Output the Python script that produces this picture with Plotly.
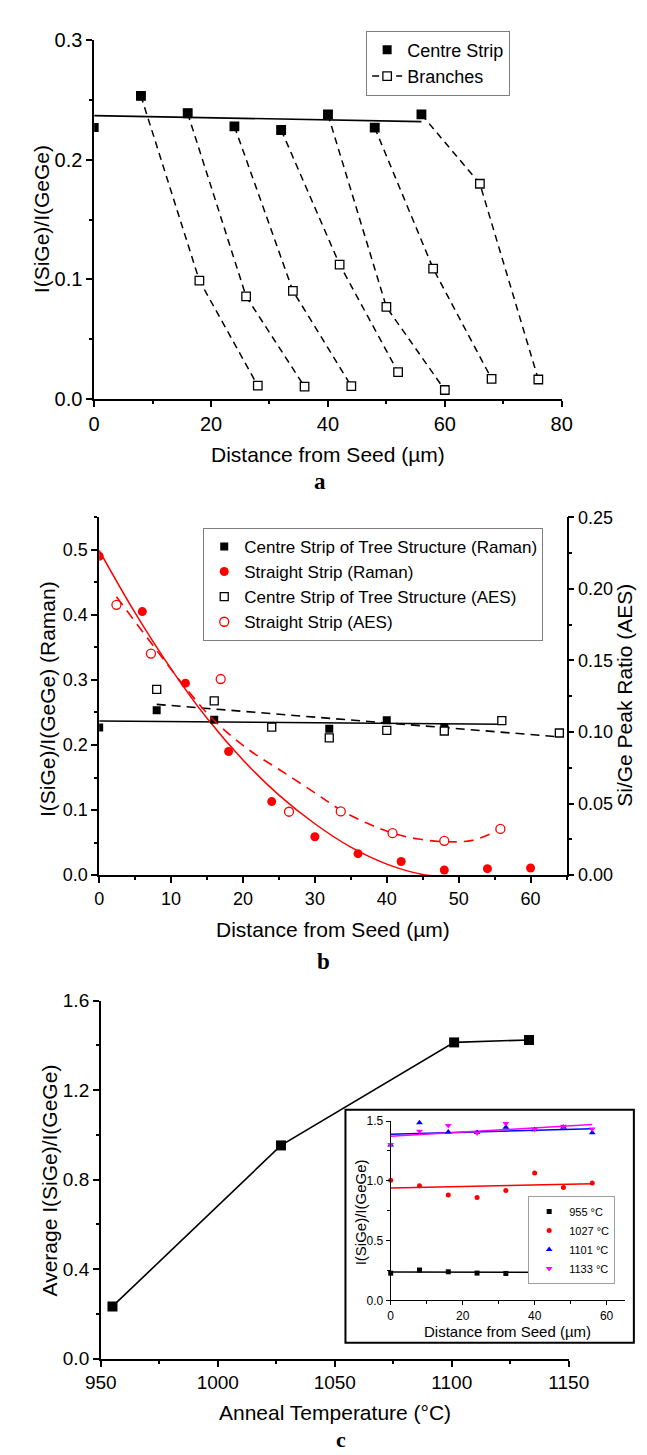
import plotly.graph_objects as go

W, H = 647, 1455
FONT = "Liberation Sans, Arial, sans-serif"
SERIF = "Liberation Serif, Times New Roman, serif"

def px(x):
    return x / W

def py(y):
    return 1 - y / H

# ---------------- Panel a data ----------------
centre_x = [0, 8, 16, 24, 32, 40, 48, 56]
centre_y = [0.227, 0.2536, 0.239, 0.228, 0.225, 0.238, 0.227, 0.238]
centre_fit_x = [0, 56]
centre_fit_y = [0.237, 0.232]

branch_x = [
    [8, 18, 28],
    [16, 26, 36],
    [24, 34, 44],
    [32, 42, 52],
    [40, 50, 60],
    [48, 58, 68],
    [56, 66, 76],
]
branch_y = [
    [0.2536, 0.099, 0.011],
    [0.239, 0.0857, 0.0102],
    [0.228, 0.0904, 0.0107],
    [0.225, 0.1124, 0.0223],
    [0.238, 0.0769, 0.0074],
    [0.227, 0.109, 0.0168],
    [0.238, 0.180, 0.0162],
]

# ---------------- Panel b data ----------------
raman_straight_x = [0, 6, 12, 18, 24, 30, 36, 42, 48, 54, 60]
raman_straight_y = [0.49, 0.405, 0.295, 0.19, 0.113, 0.059, 0.033, 0.021, 0.008, 0.010, 0.011]
raman_fit_x = [0, 5, 10, 15, 20, 25, 30, 35, 40, 45, 48]
raman_fit_y = [0.499, 0.403, 0.317, 0.241, 0.177, 0.123, 0.079, 0.043, 0.017, 0.001, -0.002]

aes_centre_x = [8, 16, 24, 32, 40, 48, 56, 64]
aes_centre_y = [0.1298, 0.1218, 0.1034, 0.0959, 0.1011, 0.1007, 0.1079, 0.0993]
aes_centre_fit_x = [8, 64]
aes_centre_fit_y = [0.1193, 0.0966]

aes_straight_x = [2.4, 7.2, 16.9, 26.4, 33.6, 40.8, 48.0, 55.8]
aes_straight_y = [0.1888, 0.1548, 0.137, 0.0443, 0.0445, 0.0293, 0.0240, 0.0323]
aes_fit_x = [2.4, 8, 12, 16, 20.7, 25.6, 30.3, 33.6, 37.3, 40.8, 44.4, 48, 51.9, 55.6]
aes_fit_y = [0.1945, 0.157, 0.131, 0.108, 0.088, 0.072, 0.0565, 0.0455, 0.0362, 0.0294, 0.0252, 0.0234, 0.0243, 0.0317]

# ---------------- Panel c data ----------------
anneal_T = [955, 1027, 1101, 1133]
avg_ratio = [0.234, 0.953, 1.413, 1.424]

inset_x = [0, 8, 16, 24, 32, 40, 48, 56]
inset_955 = centre_y
inset_1027 = [1.005, 0.958, 0.882, 0.86, 0.92, 1.065, 0.945, 0.982]
inset_1101 = [1.30, 1.485, 1.408, 1.404, 1.448, 1.428, 1.448, 1.402]
inset_1133 = [1.305, 1.414, 1.462, 1.40, 1.48, 1.431, 1.457, 1.434]
inset_fit_x = [0, 56]
inset_fit_955 = [0.237, 0.232]
inset_fit_1027 = [0.94, 0.975]
inset_fit_1101 = [1.39, 1.436]
inset_fit_1133 = [1.373, 1.471]

fig = go.Figure()

# ---- Panel a traces ----
for i, (bx, by) in enumerate(zip(branch_x, branch_y)):
    fig.add_trace(go.Scatter(
        x=bx, y=by, mode="lines+markers", xaxis="x", yaxis="y",
        line=dict(color="black", width=1.5, dash="7px,5px"),
        marker=dict(symbol="square", size=8.5, color="white", line=dict(color="black", width=1.3)),
        name="Branches", legend="legend", legendgroup="br", showlegend=(i == 0)))
fig.add_trace(go.Scatter(
    x=centre_fit_x, y=centre_fit_y, mode="lines", xaxis="x", yaxis="y",
    line=dict(color="black", width=1.6), showlegend=False))
fig.add_trace(go.Scatter(
    x=centre_x, y=centre_y, mode="markers", xaxis="x", yaxis="y",
    marker=dict(symbol="square", size=9, color="black"),
    name="Centre Strip", legend="legend", legendrank=1))

# ---- Panel b traces ----
fig.add_trace(go.Scatter(
    x=centre_fit_x, y=centre_fit_y, mode="lines", xaxis="x2", yaxis="y2",
    line=dict(color="black", width=1.5), showlegend=False))
fig.add_trace(go.Scatter(
    x=raman_fit_x, y=raman_fit_y, mode="lines", xaxis="x2", yaxis="y2",
    line=dict(color="#ff0000", width=1.5, shape="spline"), showlegend=False))
fig.add_trace(go.Scatter(
    x=centre_x, y=centre_y, mode="markers", xaxis="x2", yaxis="y2",
    marker=dict(symbol="square", size=8, color="black"),
    name="Centre Strip of Tree Structure (Raman)", legend="legend2"))
fig.add_trace(go.Scatter(
    x=raman_straight_x, y=raman_straight_y, mode="markers", xaxis="x2", yaxis="y2",
    marker=dict(symbol="circle", size=9, color="#ff0000"),
    name="Straight Strip (Raman)", legend="legend2"))
fig.add_trace(go.Scatter(
    x=aes_centre_fit_x, y=aes_centre_fit_y, mode="lines", xaxis="x2", yaxis="y3",
    line=dict(color="black", width=1.6, dash="9px,6px"), showlegend=False))
fig.add_trace(go.Scatter(
    x=aes_fit_x, y=aes_fit_y, mode="lines", xaxis="x2", yaxis="y3",
    line=dict(color="#ff0000", width=1.6, dash="10px,7px", shape="spline"), showlegend=False))
fig.add_trace(go.Scatter(
    x=aes_centre_x, y=aes_centre_y, mode="markers", xaxis="x2", yaxis="y3",
    marker=dict(symbol="square", size=8, color="white", line=dict(color="black", width=1.3)),
    name="Centre Strip of Tree Structure (AES)", legend="legend2"))
fig.add_trace(go.Scatter(
    x=aes_straight_x, y=aes_straight_y, mode="markers", xaxis="x2", yaxis="y3",
    marker=dict(symbol="circle", size=9, color="white", line=dict(color="#ff0000", width=1.3)),
    name="Straight Strip (AES)", legend="legend2"))

# ---- Panel c traces ----
fig.add_trace(go.Scatter(
    x=anneal_T, y=avg_ratio, mode="lines+markers", xaxis="x3", yaxis="y4",
    line=dict(color="black", width=1.6),
    marker=dict(symbol="square", size=10, color="black"), showlegend=False))

inset_series = [
    ("955 °C", inset_955, inset_fit_955, "black", "square", 5),
    ("1027 °C", inset_1027, inset_fit_1027, "#ff0000", "circle", 5),
    ("1101 °C", inset_1101, inset_fit_1101, "#0000ff", "triangle-up", 6),
    ("1133 °C", inset_1133, inset_fit_1133, "#ff00ff", "triangle-down", 6),
]
for name, vals, fitv, col, sym, sz in inset_series:
    fig.add_trace(go.Scatter(
        x=inset_fit_x, y=fitv, mode="lines", xaxis="x4", yaxis="y5",
        line=dict(color=col, width=1.5), showlegend=False, cliponaxis=False))
for name, vals, fitv, col, sym, sz in inset_series:
    fig.add_trace(go.Scatter(
        x=inset_x, y=vals, mode="markers", xaxis="x4", yaxis="y5",
        marker=dict(symbol=sym, size=sz, color=col), name=name,
        legend="legend3", cliponaxis=False))


def axis(domain, anchor, rng, dtick, mdtick, fmt=None, size=19, tlen=6, mlen=3.5, lw=1.5, **kw):
    d = dict(domain=domain, anchor=anchor, range=rng, dtick=dtick, tick0=rng[0] if rng[0] >= 0 else 0,
             showline=True, linecolor="black", linewidth=lw, ticks="outside", ticklen=tlen,
             tickwidth=lw, tickcolor="black", showgrid=False, zeroline=False,
             tickfont=dict(family=FONT, size=size, color="black"),
             minor=dict(ticks="outside", ticklen=mlen, tickwidth=lw, tickcolor="black",
                        dtick=mdtick, showgrid=False),
             fixedrange=True)
    if fmt:
        d["tickformat"] = fmt
    d.update(kw)
    return d

xa = [px(74.3), px(569.4)]
ya = [py(385.7), py(21.7)]
xb = [px(79.6), px(574.5)]
yb = [py(869.3), py(505.9)]
xc = [px(81.3), px(576.9)]
yc = [py(1360.4), py(996.6)]
xi = [px(388.3), px(636.0)]
yi = [py(1301.0), py(1119.0)]

fig.update_layout(
    width=W, height=H,
    margin=dict(l=0, r=0, t=0, b=0),
    paper_bgcolor="white", plot_bgcolor="rgba(0,0,0,0)",
    font=dict(family=FONT, color="black"),
    xaxis=axis(xa, "y", [0, 80], 20, 10, size=20),
    yaxis=axis(ya, "x", [0, 0.3], 0.1, 0.05, fmt=".1f", size=20),
    xaxis2=axis(xb, "y2", [0, 65], 10, 5, size=18),
    yaxis2=axis(yb, "x2", [0, 0.55], 0.1, 0.05, fmt=".1f", size=18),
    yaxis3=axis(yb, "x2", [0, 0.25], 0.05, 0.025, fmt=".2f", size=18,
                overlaying="y2", side="right"),
    xaxis3=axis(xc, "y4", [950, 1150], 50, 25, size=19),
    yaxis4=axis(yc, "x3", [0, 1.6], 0.4, 0.2, fmt=".1f", size=19),
    xaxis4=axis(xi, "y5", [0, 65], 20, 10, size=12, tlen=4, mlen=2.5, lw=1.2),
    yaxis5=axis(yi, "x4", [0, 1.5], 0.5, 0.25, fmt=".1f", size=12, tlen=4, mlen=2.5, lw=1.2),
    legend=dict(x=px(362.3), y=py(11.7), xanchor="left", yanchor="top",
                bgcolor="white", bordercolor="#7f7f7f", borderwidth=1,
                font=dict(family=FONT, size=18, color="black"), tracegroupgap=0,
                traceorder="normal"),
    legend2=dict(x=px(189.8), y=py(516.7), xanchor="left", yanchor="top",
                 bgcolor="white", bordercolor="#7f7f7f", borderwidth=1,
                 font=dict(family=FONT, size=17, color="black"), tracegroupgap=0),
    legend3=dict(x=px(626), y=py(1195), xanchor="right", yanchor="top",
                 bgcolor="white", bordercolor="#9f9f9f", borderwidth=1,
                 font=dict(family=FONT, size=11, color="black"), tracegroupgap=0),
    showlegend=True,
)

# inset frame
fig.add_shape(type="rect", xref="paper", yref="paper",
              x0=px(340.4), x1=px(645.8), y0=py(1344.0), y1=py(1107.4),
              line=dict(color="black", width=2), fillcolor="rgba(0,0,0,0)", layer="below")

def ann(text, x, y, size=21, angle=0, family=FONT, bold=False):
    fig.add_annotation(text=("<b>%s</b>" % text) if bold else text,
                       x=px(x), y=py(y), xref="paper", yref="paper",
                       showarrow=False, textangle=angle, xanchor="center", yanchor="middle",
                       font=dict(family=family, size=size, color="black"))

ann("Distance from Seed (µm)", 321.9, 441.7)
ann("I(SiGe)/I(GeGe)", 18.6, 203.7, angle=-90)
ann("a", 313.6, 470, size=23, family=SERIF, bold=True)

ann("Distance from Seed (µm)", 327.0, 924.0)
ann("I(SiGe)/I(GeGe) (Raman)", 24.8, 690.0, angle=-90)
ann("Si/Ge Peak Ratio (AES)", 635.5, 687.0, angle=-90)
ann("b", 317.0, 957.0, size=23, family=SERIF, bold=True)

ann("Anneal Temperature (°C)", 329.0, 1415.4)
ann("Average I(SiGe)/I(GeGe)", 26.8, 1179.0, angle=-90)
ann("c", 336.0, 1442.0, size=22, family=SERIF, bold=True)

ann("Distance from Seed (µm)", 511.7, 1332.5, size=15)
ann("I(SiGe)/I(GeGe)", 356.5, 1212.0, size=15, angle=-90)

fig.write_html("out.html")
